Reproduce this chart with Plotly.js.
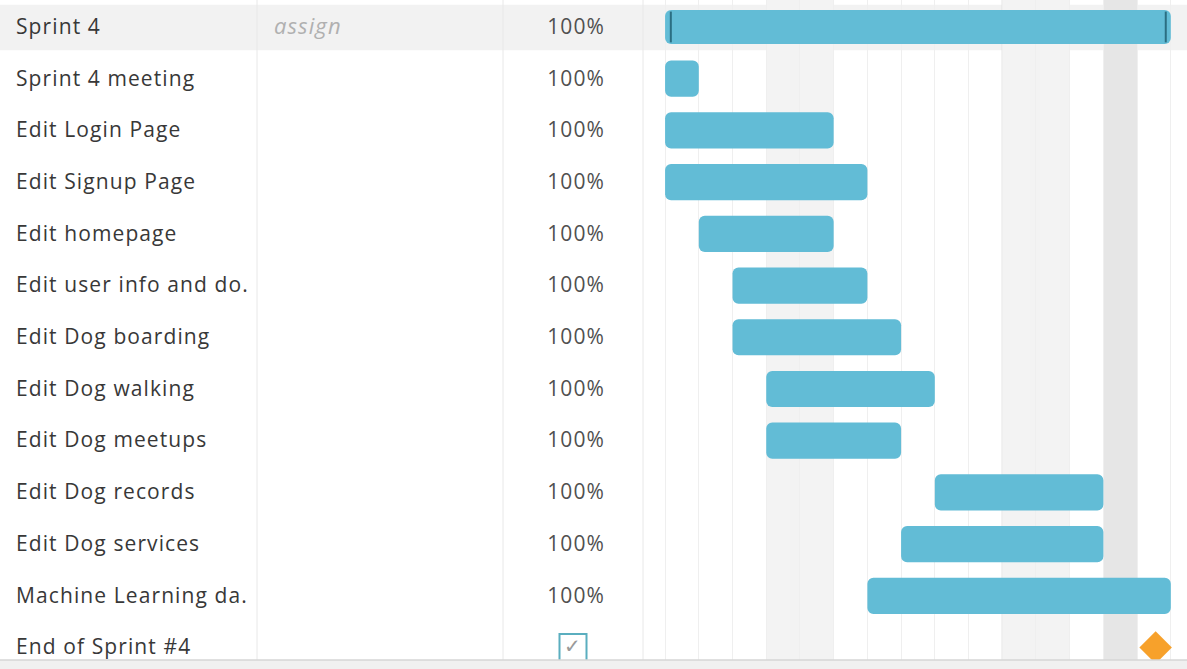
<!DOCTYPE html>
<html>
<head>
<meta charset="utf-8">
<script src="https://cdn.plot.ly/plotly-3.0.1.min.js"></script>
<style>
html,body{margin:0;padding:0;background:#fff;}
#chart{width:1187px;height:669px;}
.textpoint text{letter-spacing:1.1px;}
</style>
</head>
<body>
<div id="chart"></div>
<script>
// ---- data ----
var taskNames = ["Sprint 4","Sprint 4 meeting","Edit Login Page","Edit Signup Page","Edit homepage",
  "Edit user info and do.","Edit Dog boarding","Edit Dog walking","Edit Dog meetups","Edit Dog records",
  "Edit Dog services","Machine Learning da.","End of Sprint #4"];
var assignees = ["assign","","","","","","","","","","","",""];
var progress = ["100%","100%","100%","100%","100%","100%","100%","100%","100%","100%","100%","100%",""];
var startDay = [0,0,0,0,1,2,2,3,3,8,7,6];
var durationDays = [15,1,5,6,4,4,5,5,4,5,6,9];
var milestoneDay = [14.55];
var milestoneRow = [12];
var weekendDays = [[3,5],[10,12]];
var todayDay = [13,14];

var rows = taskNames.map(function(_, i){ return i; });
var textRows = rows.map(function(i){ return i + 0.03; });
var barRows = startDay.map(function(_, i){ return i; });

var barColor = "#62bcd6";
var textFont = "Open Sans, Lato, sans-serif";

var traces = [];
traces.push({
  type: "bar", orientation: "h", xaxis: "x", yaxis: "y",
  y: [barRows[0]], x: [durationDays[0]], base: [startDay[0]],
  width: 0.66, marker: {color: barColor, cornerradius: 6, line: {width: 0}},
  hoverinfo: "skip", showlegend: false
});
traces.push({
  type: "bar", orientation: "h", xaxis: "x", yaxis: "y",
  y: barRows.slice(1), x: durationDays.slice(1), base: startDay.slice(1),
  width: 0.7, marker: {color: barColor, cornerradius: 6, line: {width: 0}},
  hoverinfo: "skip", showlegend: false
});
traces.push({
  type: "scatter", mode: "markers", xaxis: "x", yaxis: "y",
  x: [startDay[0] + 0.17, startDay[0] + durationDays[0] - 0.15], y: [0, 0],
  marker: {symbol: "line-ns", size: 22, line: {color: "#2b6e82", width: 2}},
  hoverinfo: "skip", showlegend: false
});
traces.push({
  type: "scatter", mode: "markers", xaxis: "x", yaxis: "y",
  x: milestoneDay, y: milestoneRow,
  marker: {symbol: "diamond", size: 25, color: "#f7a12b", line: {width: 0}},
  hoverinfo: "skip", showlegend: false
});
traces.push({
  type: "scatter", mode: "text", xaxis: "x2", yaxis: "y",
  x: rows.map(function(){ return 16; }), y: textRows, text: taskNames,
  textposition: "middle right",
  textfont: {family: textFont, size: 21, color: "#383838"},
  hoverinfo: "skip", showlegend: false
});
traces.push({
  type: "scatter", mode: "text", xaxis: "x2", yaxis: "y",
  x: rows.map(function(){ return 274; }), y: textRows,
  text: assignees.map(function(a){ return a ? "<i>" + a + "</i>" : ""; }),
  textposition: "middle right",
  textfont: {family: textFont, size: 22, color: "#b0b0b0"},
  hoverinfo: "skip", showlegend: false
});
traces.push({
  type: "scatter", mode: "text", xaxis: "x2", yaxis: "y",
  x: rows.map(function(){ return 605; }), y: textRows, text: progress,
  textposition: "middle left",
  textfont: {family: textFont, size: 21, color: "#505050"},
  hoverinfo: "skip", showlegend: false
});
traces.push({
  type: "scatter", mode: "markers+text", xaxis: "x2", yaxis: "y",
  x: [573], y: milestoneRow, text: ["✓"], textposition: "middle center",
  textfont: {family: "DejaVu Sans", size: 20, color: "#9a9a9a"},
  marker: {symbol: "square", size: 27, color: "#ffffff", line: {color: "#5aaebf", width: 2}},
  hoverinfo: "skip", showlegend: false
});

var shapes = [];
shapes.push({type: "rect", xref: "paper", yref: "y", x0: 0, x1: 1, y0: -0.43, y1: 0.45,
  fillcolor: "#f2f2f2", line: {width: 0}, layer: "below"});
weekendDays.forEach(function(w){
  shapes.push({type: "rect", xref: "x", yref: "paper", x0: w[0], x1: w[1], y0: 0, y1: 1,
    fillcolor: "#f3f3f3", line: {width: 0}, layer: "below"});
});
shapes.push({type: "rect", xref: "x", yref: "paper", x0: todayDay[0], x1: todayDay[1], y0: 0, y1: 1,
  fillcolor: "#e6e6e6", line: {width: 0}, layer: "below"});
shapes.push({type: "line", xref: "x", yref: "paper", x0: 10, x1: 10, y0: 0, y1: 1,
  line: {color: "#dcdcdc", width: 1.2}, layer: "below"});
[257, 503, 643].forEach(function(px){
  shapes.push({type: "line", xref: "paper", yref: "paper", x0: px/1187, x1: px/1187, y0: 0, y1: 1,
    line: {color: "#e8e8e8", width: 1}, layer: "below"});
});
shapes.push({type: "rect", xref: "paper", yref: "paper", x0: 0, x1: 1, y0: 0, y1: 9/669,
  fillcolor: "#f0f0f0", line: {width: 0}, layer: "above"});
shapes.push({type: "line", xref: "paper", yref: "paper", x0: 0, x1: 1, y0: 9/669, y1: 9/669,
  line: {color: "#d6d6d6", width: 1.5}, layer: "above"});

var layout = {
  width: 1187, height: 669,
  margin: {l: 0, r: 0, t: 0, b: 0, pad: 0},
  paper_bgcolor: "#ffffff", plot_bgcolor: "rgba(0,0,0,0)",
  barmode: "overlay",
  showlegend: false,
  xaxis: {domain: [640/1187, 1], range: [-0.744, 15.48], showgrid: true, dtick: 1, tick0: 0,
    gridcolor: "#efefef", gridwidth: 1, zeroline: false, showticklabels: false, ticks: "",
    showline: false, fixedrange: true},
  xaxis2: {domain: [0, 640/1187], range: [0, 640], showgrid: false, zeroline: false,
    showticklabels: false, ticks: "", showline: false, anchor: "y", fixedrange: true},
  yaxis: {range: [12.415, -0.522], showgrid: false, zeroline: false, showticklabels: false,
    ticks: "", showline: false, fixedrange: true},
  shapes: shapes
};

Plotly.newPlot("chart", traces, layout, {displayModeBar: false, staticPlot: true});
</script>
</body>
</html>
